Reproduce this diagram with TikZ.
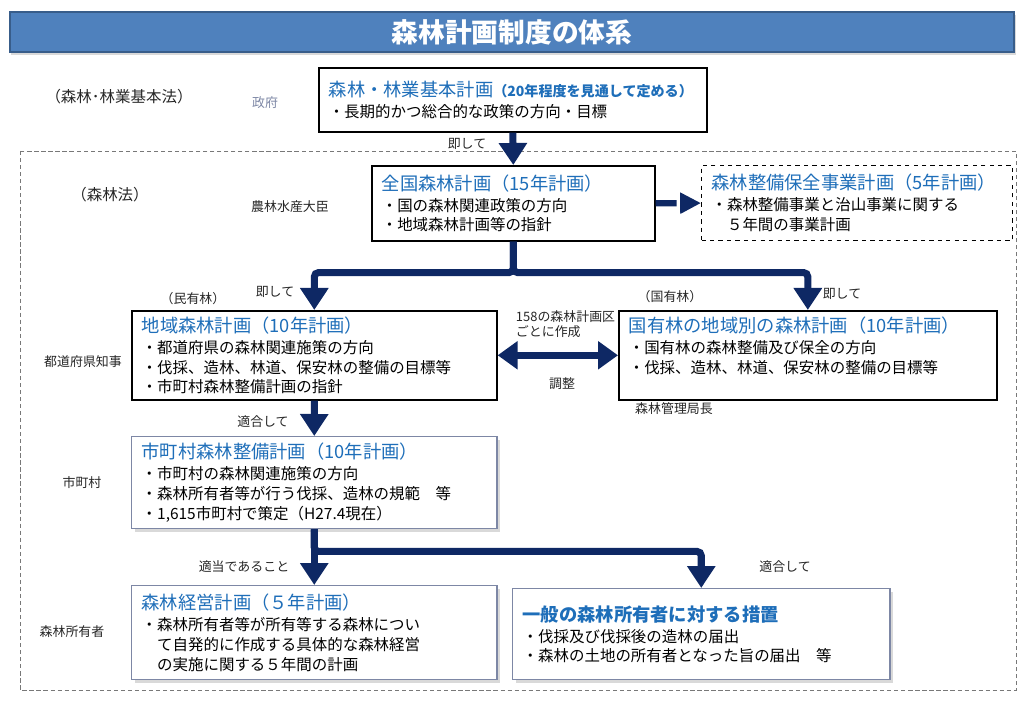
\documentclass[tikz,border=0pt]{standalone}
\usepackage{fontspec}
\setmainfont{Noto Sans CJK JP}
\usetikzlibrary{arrows.meta}
\usetikzlibrary{shadows}
\definecolor{navy}{RGB}{14,40,100}
\definecolor{ttlblue}{RGB}{30,110,185}
\definecolor{barblue}{RGB}{79,129,189}
\definecolor{barline}{RGB}{56,93,138}
\definecolor{softline}{RGB}{125,135,165}
\definecolor{lawgray}{RGB}{120,120,120}
\newcommand{\ttl}[1]{{\color{ttlblue}\fontsize{13}{15}\selectfont #1}}

\begin{document}
\begin{tikzpicture}[x=0.025cm, y=-0.025cm,
    planbox/.style={draw, line width=1.1pt, fill=white, anchor=north west, align=left,
      inner xsep=0.25cm, inner ysep=2pt, font=\fontsize{11}{14}\selectfont},
    softbox/.style={planbox, draw=softline, line width=1pt,
      drop shadow={opacity=0.3, shadow xshift=2pt, shadow yshift=-2pt}},
    lbl/.style={font=\fontsize{9.2}{11}\selectfont, text=black!85},
    lawlbl/.style={lbl, font=\fontsize{11}{13}\selectfont},
    bigarrow/.style={draw=navy, line width=5pt, rounded corners=3pt,
      -{Triangle[width=0.68cm, length=0.55cm]}}]
    \useasboundingbox (0,0) rectangle (1024,709);

    \node[draw=barline, fill=barblue, line width=1pt, minimum width=25.1cm, minimum height=1cm,
      text=white, font=\fontsize{19}{22}\selectfont\bfseries,
      drop shadow={opacity=0.3, shadow xshift=1pt, shadow yshift=-2pt}] (title) at (512,32) {森林計画制度の体系};

    \draw [lawgray, line width=0.6pt, dash pattern=on 3pt off 2pt] (20,151) rectangle (1016,690);

    \node[planbox, text width=9.2cm, minimum height=1.6cm] (kihon) at (318,67)
      {\ttl{森林・林業基本計画}{\color{ttlblue}\fontsize{10}{12}\selectfont\bfseries（20年程度を見通して定める）}\\[1pt]
       ・長期的かつ総合的な政策の方向・目標};
    \node[planbox, text width=6.575cm, minimum height=1.875cm] (zenkoku) at (371,165)
      {\ttl{全国森林計画（15年計画）}\\[1pt]
       ・国の森林関連政策の方向\\
       ・地域森林計画等の指針};
    \node[planbox, dashed, line width=0.8pt, text width=7.275cm, minimum height=1.875cm] (seibi) at (701,165)
      {\ttl{森林整備保全事業計画（5年計画）}\\[1pt]
       ・森林整備事業と治山事業に関する\\
       　５年間の事業計画};
    \node[planbox, text width=8.625cm, minimum height=2.225cm] (chiiki) at (131,310)
      {\ttl{地域森林計画（10年計画）}\\[1pt]
       ・都道府県の森林関連施策の方向\\
       ・伐採、造林、林道、保安林の整備の目標等\\
       ・市町村森林整備計画の指針};
    \node[planbox, text width=8.95cm, minimum height=2.225cm] (kokuyu) at (618,310)
      {\ttl{国有林の地域別の森林計画（10年計画）}\\[1pt]
       ・国有林の森林整備及び保全の方向\\
       ・伐採、造林、林道、保安林の整備の目標等\\
       \mbox{}};
    \node[softbox, text width=8.625cm, minimum height=2.3cm] (shichoson) at (131,436)
      {\ttl{市町村森林整備計画（10年計画）}\\[1pt]
       ・市町村の森林関連施策の方向\\
       ・森林所有者等が行う伐採、造林の規範　等\\
       ・1,615市町村で策定（H27.4現在）};
    \node[softbox, text width=8.625cm, minimum height=2.35cm] (keiei) at (131,585)
      {\ttl{森林経営計画（５年計画）}\\[1pt]
       ・森林所有者等が所有等する森林につい\\
       　て自発的に作成する具体的な森林経営\\
       　の実施に関する５年間の計画};
    \node[softbox, text width=8.925cm, minimum height=2.275cm] (ippan) at (512,588)
      {\ttl{\bfseries 一般の森林所有者に対する措置}\\[1pt]
       ・伐採及び伐採後の造林の届出\\
       ・森林の土地の所有者となった旨の届出　等};

    \node[lawlbl] (lawkihon) at (119,97) {（森林･林業基本法）};
    \node[lbl, text=softline] (seifu) at (265,103) {政府};
    \node[lawlbl] (lawshinrin) at (110,195) {（森林法）};
    \node[lbl] (daijin) at (290,207) {農林水産大臣};
    \node[lbl] (sokuA) at (467,144) {即して};
    \node[lbl] (minyu) at (193,299) {（民有林）};
    \node[lbl] (sokuB) at (275,292) {即して};
    \node[lbl] (kokuyurin) at (670,297) {（国有林）};
    \node[lbl] (sokuC) at (842,294) {即して};
    \node[lbl] (chiji) at (83,362) {都道府県知事};
    \node[lbl, align=left, anchor=west] (kukaku) at (511,324) {158の森林計画区\\ごとに作成};
    \node[lbl] (chosei) at (562,384) {調整};
    \node[lbl] (kyokucho) at (674,409) {森林管理局長};
    \node[lbl] (tekigoA) at (263,422) {適合して};
    \node[lbl] (shichosonlbl) at (82,483) {市町村};
    \node[lbl] (tekito) at (244,567) {適当であること};
    \node[lbl] (tekigoB) at (785,567) {適合して};
    \node[lbl] (shoyusha) at (72,632) {森林所有者};

    \draw[bigarrow] (kihon.south) -- (zenkoku.north);
    \draw[draw=navy, line width=4.5pt, dash pattern=on 15pt off 30pt,
      -{Triangle[width=0.5cm, length=0.52cm]}] (zenkoku.east) -- (seibi.west);
    \draw[bigarrow] (zenkoku.south) -- ++(0,31) -| (chiiki.north);
    \draw[bigarrow] (zenkoku.south) -- ++(0,31) -| (kokuyu.north);
    \draw[navy, line width=5pt, {Triangle[width=0.68cm, length=0.5cm]}-{Triangle[width=0.68cm, length=0.5cm]}]
      (chiiki.east) -- (kokuyu.west);
    \draw[bigarrow] (chiiki.south) -- (shichoson.north);
    \draw[bigarrow] (shichoson.south) -- (keiei.north);
    \draw[bigarrow] (shichoson.south) -- ++(0,22) -| (ippan.north);
  \end{tikzpicture}
\end{document}
